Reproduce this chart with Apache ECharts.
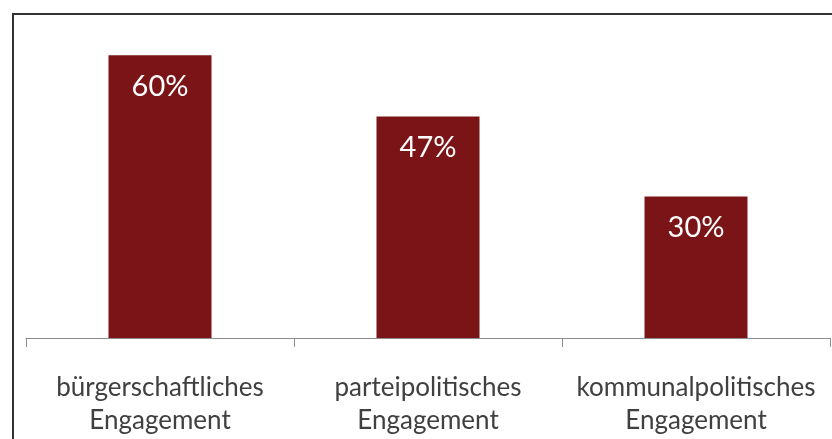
<!DOCTYPE html>
<html>
<head>
<meta charset="utf-8">
<script src="https://cdn.jsdelivr.net/npm/echarts@6/dist/echarts.min.js"></script>
<style>
  html, body { margin: 0; padding: 0; background: #fff; }
  #chart { width: 832px; height: 439px; }
</style>
</head>
<body>
<div id="chart"></div>
<script>
  // data
  const categories = ['bürgerschaftliches\nEngagement', 'parteipolitisches\nEngagement', 'kommunalpolitisches\nEngagement']
  const shares = [60, 47, 30]

  const chart = echarts.init(document.getElementById('chart'))
  chart.setOption({
    animation: false,
    // outer frame, cut off on the right and bottom like in the original
    graphic: [{
      type: 'rect',
      shape: { x: 13, y: 14, width: 900, height: 600 },
      style: { fill: 'none', stroke: '#333', lineWidth: 2 }
    }],
    grid: { left: 26, right: 2, top: 8, bottom: 101 },
    xAxis: {
      type: 'category',
      data: categories,
      axisLine: { lineStyle: { color: '#8c8c8c', width: 1 } },
      axisTick: { show: true, length: 9, lineStyle: { color: '#8c8c8c' } },
      axisLabel: {
        interval: 0,
        color: '#404040',
        fontFamily: 'Lato',
        fontSize: 26,
        lineHeight: 33,
        margin: 33
      }
    },
    yAxis: {
      type: 'value',
      min: 0,
      max: 70,
      show: false,
      splitLine: { show: false }
    },
    series: [{
      type: 'bar',
      data: shares,
      barWidth: 103,
      itemStyle: { color: '#7b1416' },
      label: {
        show: true,
        position: 'insideTop',
        distance: 17,
        formatter: '{c}%',
        color: '#fff',
        fontFamily: 'Lato',
        fontSize: 29
      }
    }]
  })
</script>
</body>
</html>
